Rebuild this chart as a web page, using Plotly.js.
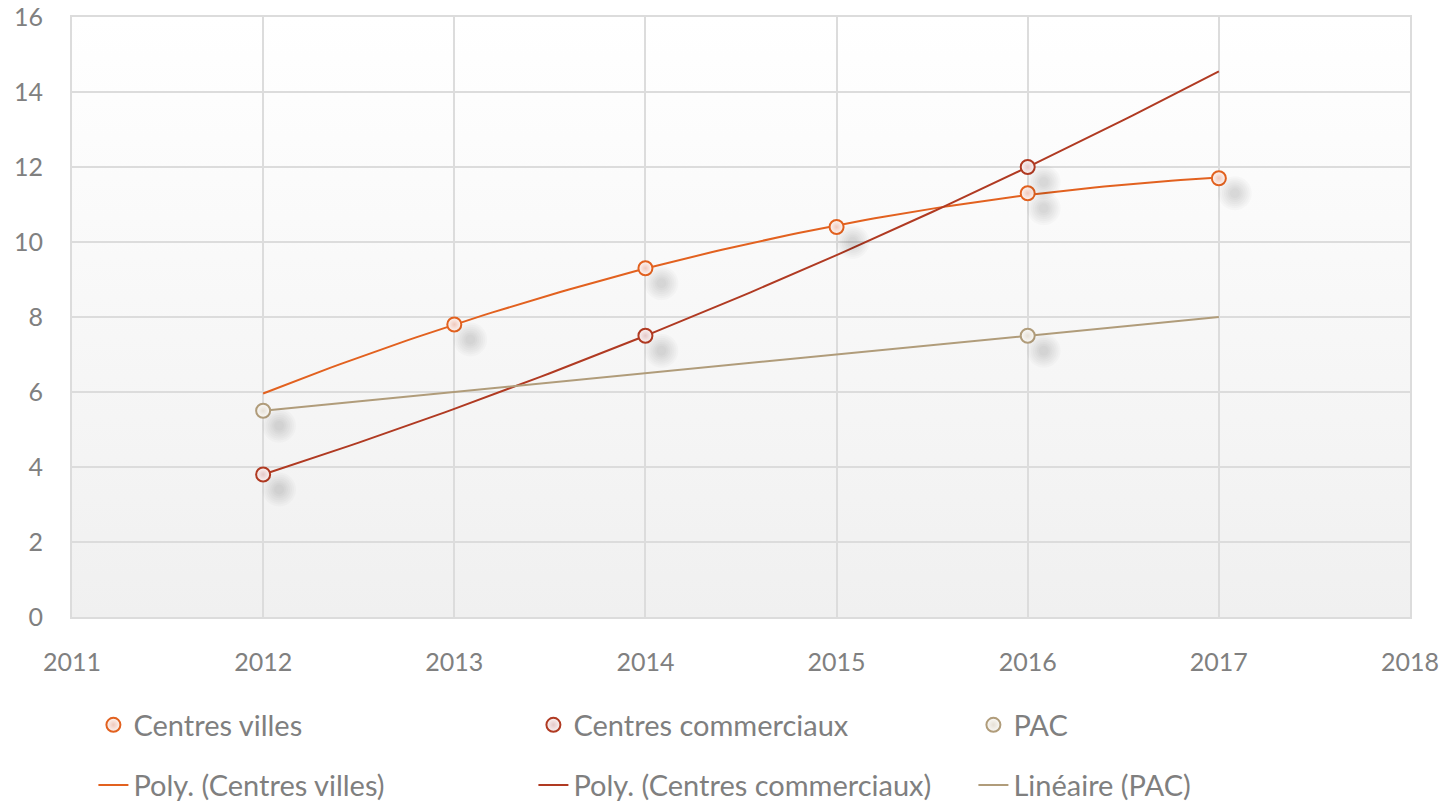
<!DOCTYPE html>
<html>
<head>
<meta charset="utf-8">
<script src="https://cdn.plot.ly/plotly-3.0.1.min.js"></script>
<style>html,body{margin:0;padding:0;background:#fff;}#chart{width:1445px;height:802px;}</style>
</head>
<body>
<div id="chart"></div>
<script>
// ---- data ----
const cvYears = [2013, 2014, 2015, 2016, 2017];
const cvValues = [7.8, 9.3, 10.4, 11.3, 11.7];
const ccYears = [2012, 2014, 2016];
const ccValues = [3.8, 7.5, 12.0];
const pacYears = [2012, 2016];
const pacValues = [5.5, 7.5];
const trendStart = 2012;
const trendEnd = 2017;
const seriesNames = ['Centres villes', 'Centres commerciaux', 'PAC'];
const trendNames = ['Poly. (Centres villes)', 'Poly. (Centres commerciaux)', 'Linéaire (PAC)'];
const xTicks = [2011, 2012, 2013, 2014, 2015, 2016, 2017, 2018];
const yTicks = [0, 2, 4, 6, 8, 10, 12, 14, 16];

// ---- least squares polynomial fit ----
function polyfit(xs, ys, order) {
  const x0 = xs[0];
  const n = order + 1;
  const A = [];
  for (let i = 0; i < n; i++) { A.push(new Array(n + 1).fill(0)); }
  xs.forEach((xv, k) => {
    const t = xv - x0;
    for (let i = 0; i < n; i++) {
      for (let j = 0; j < n; j++) A[i][j] += Math.pow(t, i + j);
      A[i][n] += Math.pow(t, i) * ys[k];
    }
  });
  for (let i = 0; i < n; i++) {
    let p = i;
    for (let r = i + 1; r < n; r++) if (Math.abs(A[r][i]) > Math.abs(A[p][i])) p = r;
    [A[i], A[p]] = [A[p], A[i]];
    for (let r = 0; r < n; r++) {
      if (r === i) continue;
      const f = A[r][i] / A[i][i];
      for (let c = i; c <= n; c++) A[r][c] -= f * A[i][c];
    }
  }
  const coef = A.map((row, i) => row[n] / row[i]);
  return xv => coef.reduce((s, c, i) => s + c * Math.pow(xv - x0, i), 0);
}
function trend(xs, ys, order) {
  const f = polyfit(xs, ys, order);
  const tx = [], ty = [];
  const steps = 100;
  for (let i = 0; i <= steps; i++) {
    const xv = trendStart + (trendEnd - trendStart) * i / steps;
    tx.push(xv); ty.push(f(xv));
  }
  return {x: tx, y: ty};
}

const colors = ['#E2611F', '#B03A22', '#B09C7A'];
const fillCenter = ['#fdf7f5', '#fbf5f5', '#fbfaf8'];
const fillEdge = ['#f0c8bc', '#e5c8c8', '#e6e0d6'];
const seriesX = [cvYears, ccYears, pacYears];
const seriesY = [cvValues, ccValues, pacValues];
const orders = [2, 2, 1];

// pixel geometry for shadow offset
const L = 72, R = 35, T = 17, B = 185, W = 1445, H = 802;
const plotW = W - L - R, plotH = H - T - B;
const xRange = [2011, 2018], yRange = [0, 16];
const shX = 16, shY = 15;
const dx = shX / plotW * (xRange[1] - xRange[0]);
const dy = shY / plotH * (yRange[1] - yRange[0]);

const traces = [];
// soft shadows
[34, 30, 26, 22, 18, 14, 10].forEach(sz => {
  traces.push({
    x: [].concat(...seriesX), y: [].concat(...seriesY),
    xaxis: 'x2', yaxis: 'y2', type: 'scatter', mode: 'markers',
    marker: {size: sz, color: 'rgba(0,0,0,0.018)', line: {width: 0}},
    showlegend: false, hoverinfo: 'skip'
  });
});
// trendlines
for (let i = 0; i < 3; i++) {
  const t = trend(seriesX[i], seriesY[i], orders[i]);
  traces.push({
    x: t.x, y: t.y, type: 'scatter', mode: 'lines', name: trendNames[i],
    line: {color: colors[i], width: 2}, legend: 'legend2'
  });
}
// markers
for (let i = 0; i < 3; i++) {
  traces.push({
    x: seriesX[i], y: seriesY[i], type: 'scatter', mode: 'markers', name: seriesNames[i],
    marker: {size: 14, color: fillCenter[i], gradient: {type: 'radial', color: fillEdge[i]},
             line: {color: colors[i], width: 2}},
    legend: 'legend'
  });
}

const svgBg = 'data:image/svg+xml;utf8,' + encodeURIComponent(
  '<svg xmlns="http://www.w3.org/2000/svg" width="100" height="100" preserveAspectRatio="none">' +
  '<defs><linearGradient id="g" x1="0" y1="0" x2="0" y2="1">' +
  '<stop offset="0" stop-color="#ffffff"/><stop offset="1" stop-color="#f0f0f0"/></linearGradient></defs>' +
  '<rect width="100" height="100" fill="url(#g)"/></svg>');

const fontFam = 'Lato, "Open Sans", sans-serif';
const legendCommon = {
  orientation: 'h', xanchor: 'left', yanchor: 'middle', x: 0.016,
  yref: 'container',
  font: {family: fontFam, size: 29, color: '#7f7f7f'},
  bgcolor: 'rgba(0,0,0,0)', entrywidth: 395, entrywidthmode: 'pixels', itemsizing: 'trace'
};

const layout = {
  width: W, height: H,
  margin: {l: L, r: R, t: T, b: B, autoexpand: false},
  paper_bgcolor: '#ffffff', plot_bgcolor: 'rgba(0,0,0,0)',
  font: {family: fontFam, color: '#808080'},
  xaxis: {
    range: xRange, tickvals: xTicks, ticktext: xTicks.map(String),
    showgrid: true, gridcolor: '#dcdcdc', gridwidth: 2,
    showline: true, linecolor: '#dcdcdc', linewidth: 2, mirror: true,
    zeroline: false, ticks: 'outside', ticklen: 22, tickcolor: 'rgba(0,0,0,0)',
    tickfont: {family: fontFam, size: 25, color: '#808080'}
  },
  yaxis: {
    range: yRange, tickvals: yTicks, ticktext: yTicks.map(String),
    showgrid: true, gridcolor: '#dcdcdc', gridwidth: 2,
    showline: true, linecolor: '#dcdcdc', linewidth: 2, mirror: true,
    zeroline: false, ticks: 'outside', ticklen: 22, tickcolor: 'rgba(0,0,0,0)',
    tickfont: {family: fontFam, size: 25, color: '#808080'}
  },
  xaxis2: {range: [xRange[0] - dx, xRange[1] - dx], overlaying: 'x', visible: false},
  yaxis2: {range: [yRange[0] + dy, yRange[1] + dy], overlaying: 'y', visible: false},
  legend: Object.assign({}, legendCommon, {y: 0.096}),
  legend2: Object.assign({}, legendCommon, {y: 0.021}),
  showlegend: true,
  images: [{source: svgBg, xref: 'paper', yref: 'paper', x: 0, y: 1, sizex: 1, sizey: 1,
            xanchor: 'left', yanchor: 'top', sizing: 'stretch', layer: 'below'}]
};

Plotly.newPlot('chart', traces, layout, {displayModeBar: false, staticPlot: true});
</script>
</body>
</html>
